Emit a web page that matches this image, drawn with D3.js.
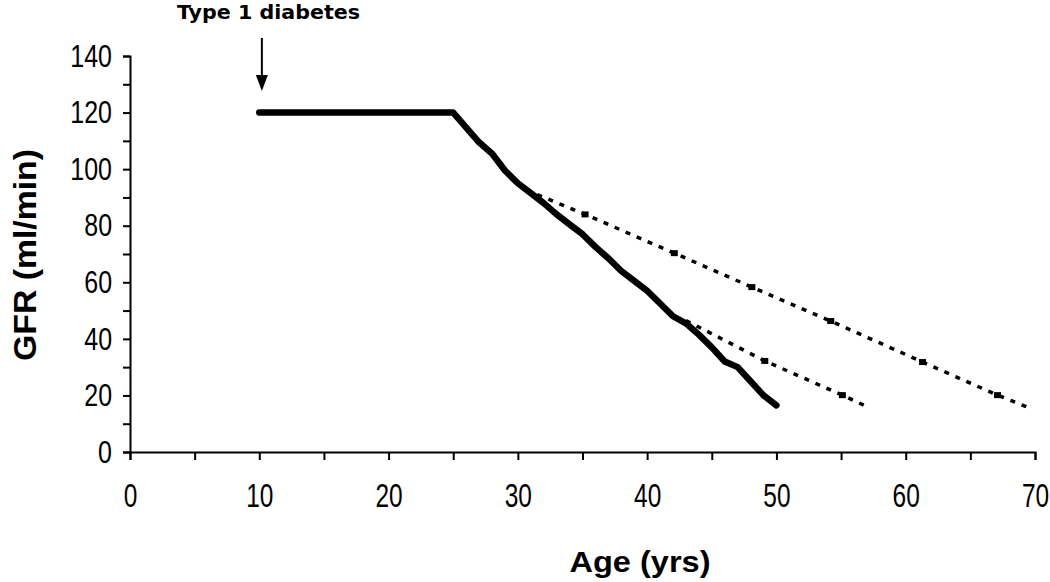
<!DOCTYPE html>
<html>
<head>
<meta charset="utf-8">
<script src="https://cdn.jsdelivr.net/npm/d3@7"></script>
<style>
  html, body { margin: 0; padding: 0; background: #fff; }
  svg { display: block; }
  text { font-family: "Liberation Sans", Arial, sans-serif; fill: #000; }
</style>
</head>
<body>
<svg id="chart" width="1050" height="582"></svg>
<script>
// ---- data ----
const solidAge = [10, 25, 27, 28, 29, 30, 31, 32, 33, 34, 35, 36, 37, 38, 39, 40, 41, 42, 43, 44, 45, 46, 47, 48, 49, 50];
const solidGFR = [120, 120, 109.5, 105.5, 99.5, 95, 91.5, 88, 84, 80.5, 77, 72.5, 68.5, 64, 60.5, 57, 52.5, 48, 45.5, 41.5, 37, 32, 30, 25, 20, 16.5];
const upperAge = [31.5, 35.2, 42.1, 48.1, 54.2, 61.3, 67.1, 69.6];
const upperGFR = [91, 84, 70.3, 58.3, 46.3, 31.8, 20.1, 15.5];
const lowerAge = [43, 49.1, 55.1, 57.2];
const lowerGFR = [46.5, 32.2, 20.1, 15.6];
const xTicks = [0, 5, 10, 15, 20, 25, 30, 35, 40, 45, 50, 55, 60, 65, 70];
const yTicks = [0, 10, 20, 30, 40, 50, 60, 70, 80, 90, 100, 110, 120, 130, 140];
const xTitle = "Age (yrs)";
const yTitle = "GFR (ml/min)";
const annotation = "Type 1 diabetes";
const annotationAge = 10.2;

const svg = d3.select("#chart");
const x = d3.scaleLinear().domain([0, 70]).range([130, 1035]);
const y = d3.scaleLinear().domain([0, 140]).range([452, 56]);

function squeeze(sel, factor) {
  sel.each(function () {
    const len = this.getComputedTextLength();
    d3.select(this).attr("textLength", len * factor).attr("lengthAdjust", "spacingAndGlyphs");
  });
}

// x axis
const gx = svg.append("g").attr("transform", `translate(0,${y(0)})`)
  .call(d3.axisBottom(x).tickValues(xTicks).tickSize(8).tickPadding(23)
    .tickFormat(d => d % 10 === 0 ? d : ""));
gx.select(".domain").attr("stroke", "#000").attr("stroke-width", 2);
gx.selectAll(".tick line").attr("stroke", "#000").attr("stroke-width", 2);
gx.selectAll(".tick text").style("font-size", "34px").style("font-family", "Liberation Sans, Arial, sans-serif");
squeeze(gx.selectAll(".tick text").filter(function(){return this.textContent !== "";}), 0.72);

// y axis
const gy = svg.append("g").attr("transform", `translate(${x(0)},0)`)
  .call(d3.axisLeft(y).tickValues(yTicks).tickSize(7).tickPadding(11)
    .tickFormat(d => d % 20 === 0 ? d : ""));
gy.select(".domain").attr("stroke", "#000").attr("stroke-width", 2);
gy.selectAll(".tick line").attr("stroke", "#000").attr("stroke-width", 2);
gy.selectAll(".tick text").style("font-size", "32px").style("font-family", "Liberation Sans, Arial, sans-serif");
squeeze(gy.selectAll(".tick text").filter(function(){return this.textContent !== "";}), 0.78);

// lines
const line = d3.line().x(d => x(d[0])).y(d => y(d[1]));
const upper = upperAge.map((a, i) => [a, upperGFR[i]]);
const lower = lowerAge.map((a, i) => [a, lowerGFR[i]]);
const solid = solidAge.map((a, i) => [a, solidGFR[i]]);

[upper, lower].forEach(data => {
  svg.append("path").datum(data).attr("d", line)
    .attr("fill", "none").attr("stroke", "#000").attr("stroke-width", 3.5)
    .attr("stroke-dasharray", "5,7");
  svg.selectAll(null).data(data.slice(1, -1)).enter().append("rect")
    .attr("x", d => x(d[0]) - 3.5).attr("y", d => y(d[1]) - 3)
    .attr("width", 7).attr("height", 6).attr("fill", "#000");
});

svg.append("path").datum(solid).attr("d", line)
  .attr("fill", "none").attr("stroke", "#000").attr("stroke-width", 6.5)
  .attr("stroke-linejoin", "round").attr("stroke-linecap", "round");

// annotation arrow
const ax = x(annotationAge);
svg.append("line").attr("x1", ax).attr("x2", ax).attr("y1", 38).attr("y2", 78)
  .attr("stroke", "#000").attr("stroke-width", 2);
svg.append("path").attr("d", `M${ax - 6},75 L${ax + 6},75 L${ax},91 Z`).attr("fill", "#000");

svg.append("text").attr("x", 177).attr("y", 19)
  .style("font-family", "DejaVu Sans, Verdana, sans-serif")
  .style("font-size", "20px").style("font-weight", "bold")
  .attr("textLength", 183).attr("lengthAdjust", "spacingAndGlyphs").text(annotation);

// titles
svg.append("text").attr("x", 640).attr("y", 572).attr("text-anchor", "middle")
  .style("font-size", "30px").style("font-weight", "bold")
  .attr("textLength", 141).attr("lengthAdjust", "spacingAndGlyphs").text(xTitle);
svg.append("text").attr("transform", `translate(36,255) rotate(-90)`).attr("text-anchor", "middle")
  .style("font-size", "31px").style("font-weight", "bold")
  .attr("textLength", 212).attr("lengthAdjust", "spacingAndGlyphs").text(yTitle);
</script>
</body>
</html>
